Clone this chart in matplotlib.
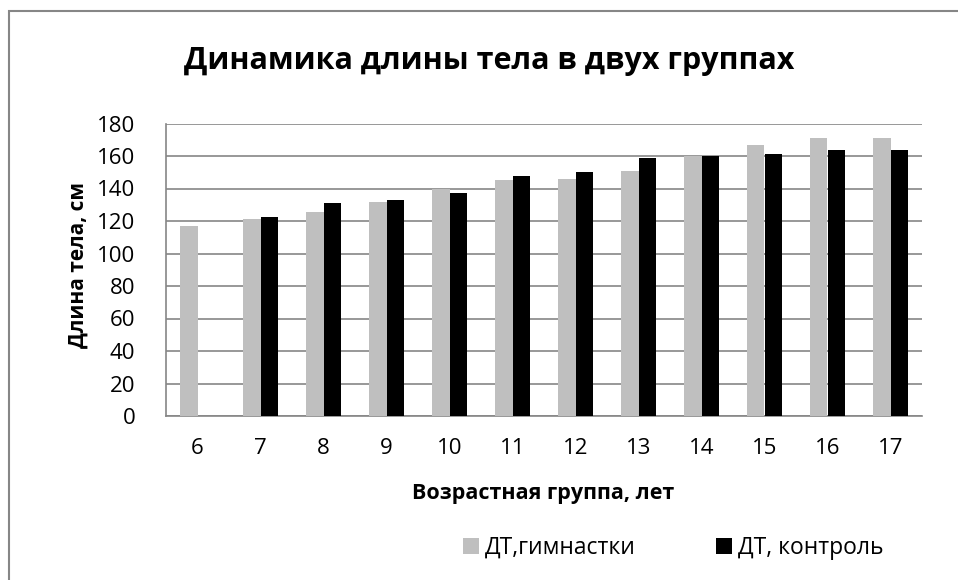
import matplotlib
matplotlib.use("Agg")
import matplotlib.pyplot as plt
import numpy as np
from matplotlib.patches import Rectangle

plt.rcParams['font.family'] = ['Open Sans', 'DejaVu Sans']

ages = ["6", "7", "8", "9", "10", "11", "12", "13", "14", "15", "16", "17"]
gymnasts = [117, 121, 125.5, 132, 140, 145, 146, 151, 160, 166.5, 171, 171]
control = [np.nan, 122.5, 131, 133, 137.5, 147.5, 150, 159, 160, 161, 163.5, 163.5]
series_names = ["ДТ,гимнастки", "ДТ, контроль"]
colors = ["#BFBFBF", "#000000"]

W, H = 958, 580
fig = plt.figure(figsize=(W / 100, H / 100), dpi=100)

# outer chart border (only left and top edges visible in the frame)
fig.patches.append(Rectangle((9 / W, -0.5), 2.0, 0.5 + (H - 11) / H, transform=fig.transFigure,
                             fill=False, edgecolor="#868686", linewidth=1.5))

ax = fig.add_axes([166 / W, (H - 416) / H, (922 - 166) / W, (416 - 123.5) / H])

x = np.arange(len(ages))
w = 0.283
ax.bar(x - w / 2, gymnasts, width=w, color=colors[0], label=series_names[0], zorder=3)
ax.bar(x + w / 2, control, width=w, color=colors[1], label=series_names[1], zorder=3)

ax.set_xlim(-0.5, len(ages) - 0.5)
ax.set_ylim(0, 180)
ax.set_yticks(np.arange(0, 181, 20))
ax.set_xticks(x)
ax.set_xticklabels(ages)
ax.tick_params(axis='both', length=0, labelsize=16, colors="#000000")
ax.tick_params(axis='x', pad=16)
ax.tick_params(axis='y', pad=22)
ax.grid(axis='y', color="#868686", linewidth=1.2, zorder=0)
for s in ["top", "right"]:
    ax.spines[s].set_visible(False)
for s in ["left", "bottom"]:
    ax.spines[s].set_color("#868686")
    ax.spines[s].set_linewidth(1.2)

fig.text(489 / W, 1 - 61 / H, "Динамика длины тела в двух группах", ha="center", va="center",
         fontsize=22, fontweight="bold")
fig.text(78 / W, 1 - 265 / H, "Длина тела, см", rotation=90, ha="center", va="center",
         fontsize=15, fontweight="bold")
fig.text(543 / W, 1 - 494 / H, "Возрастная группа, лет", ha="center", va="center",
         fontsize=15.5, fontweight="bold")

fig.legend(loc="center left", bbox_to_anchor=(463 / W, 1 - 548 / H), ncol=2, frameon=False,
           fontsize=16.5, handlelength=0.7, handleheight=0.7, handletextpad=0.25,
           columnspacing=3.5, borderpad=0, borderaxespad=0)

fig.savefig("out.png", dpi=100, facecolor="white")
